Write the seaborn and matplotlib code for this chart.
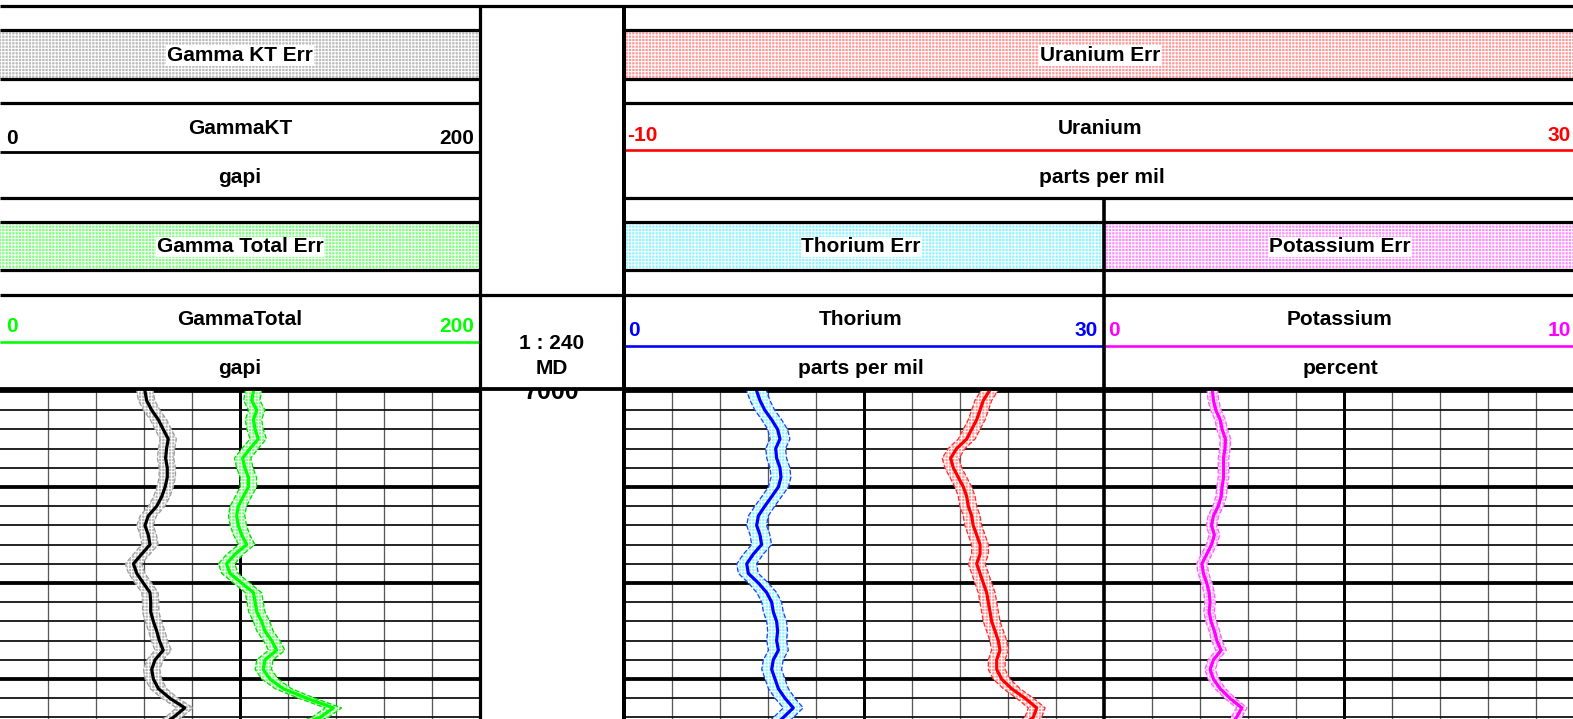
import numpy as np
import pandas as pd
import matplotlib
matplotlib.use("Agg")
import matplotlib.pyplot as plt
from matplotlib.patches import Rectangle
import seaborn as sns

# ---------------- data ----------------
depth = [6999.5, 7000.0, 7000.5, 7001.0, 7001.5, 7002.0, 7002.5, 7003.0, 7003.5,
         7004.0, 7004.5, 7005.0, 7005.5, 7006.0, 7006.5, 7007.0, 7007.5, 7008.0,
         7008.5, 7009.0, 7009.5, 7010.0, 7010.5, 7011.0, 7011.5, 7012.0, 7012.5,
         7013.0, 7013.5, 7014.0, 7014.5, 7015.0, 7015.5, 7016.0, 7016.5, 7017.0,
         7017.5]
gamma_kt = [59.8, 60.4, 61.1, 63.2, 66.0, 68.0, 70.1, 69.4, 69.0, 69.7, 69.7, 68.8,
            67.4, 65.3, 61.8, 60.4, 61.8, 62.5, 59.0, 55.6, 57.0, 59.7, 62.5, 62.8,
            62.8, 63.9, 65.3, 66.4, 68.0, 64.6, 63.2, 63.9, 66.0, 70.8, 77.0, 72.2,
            66.0]
gamma_total = [106.0, 105.6, 104.9, 107.0, 105.6, 106.3, 107.6, 104.2, 101.1, 102.0,
               103.5, 103.5, 101.4, 99.3, 98.6, 99.3, 100.7, 102.8, 97.9, 94.4, 95.8,
               100.7, 105.6, 106.3, 107.0, 109.0, 110.4, 113.2, 115.3, 110.4, 109.7,
               112.5, 118.0, 127.8, 138.9, 133.3, 122.0]
thorium = [8.1, 8.29, 8.5, 8.8, 9.23, 9.6, 9.75, 9.48, 9.54, 9.75, 9.81, 9.65, 9.23,
           8.8, 8.4, 8.29, 8.5, 8.6, 8.08, 7.67, 7.77, 8.4, 8.92, 9.23, 9.33, 9.54,
           9.6, 9.54, 9.65, 9.33, 9.23, 9.44, 9.65, 10.06, 10.58, 9.96, 9.3]
uranium = [20.9, 20.44, 19.94, 19.67, 19.39, 18.97, 18.56, 17.72, 17.22, 17.44, 17.86,
           18.28, 18.56, 18.69, 18.97, 19.1, 19.39, 19.67, 19.67, 19.39, 19.67, 19.94,
           20.22, 20.36, 20.5, 20.64, 20.92, 21.19, 21.33, 21.06, 21.06, 21.47, 22.3,
           23.42, 24.39, 24.1, 23.0]
potassium = [2.25, 2.26, 2.28, 2.33, 2.42, 2.46, 2.53, 2.52, 2.49, 2.49, 2.49, 2.46,
             2.44, 2.38, 2.28, 2.24, 2.30, 2.24, 2.14, 2.04, 2.07, 2.14, 2.19, 2.21,
             2.19, 2.23, 2.30, 2.35, 2.44, 2.28, 2.21, 2.28, 2.42, 2.625, 2.87, 2.76,
             2.6]
gamma_kt_err = 3.4
gamma_total_err = 3.4
thorium_err = 0.62
uranium_err = 0.7
potassium_err = 0.11

scale_gamma = (0, 200)
scale_thorium = (0, 30)
scale_uranium = (-10, 30)
scale_potassium = (0, 10)
depth_label = "7000"
scale_text = "1 : 240"
depth_ref = "MD"

# ---------------- layout ----------------
W, H = 1573, 719
DPI = 100
PX = 72.0 / DPI
FS = 15
sns.set_theme(style="white")
plt.rcParams["font.family"] = ["Liberation Sans", "DejaVu Sans"]
plt.rcParams["font.weight"] = "bold"
plt.rcParams["text.color"] = "black"
plt.rcParams["hatch.linewidth"] = 0.7

fig = plt.figure(figsize=(W / DPI, H / DPI), dpi=DPI)
fig.patch.set_facecolor("white")

TOP, BOT = 389, 719
ylim = (7017.08, 6999.9)


def px_axes(x0, x1, y0=TOP, y1=BOT, **kw):
    return fig.add_axes([x0 / W, 1 - y1 / H, (x1 - x0) / W, (y1 - y0) / H], **kw)


def clean(ax):
    ax.set_xlabel("")
    ax.set_ylabel("")
    ax.set_xticks([])
    ax.set_yticks([])
    for s in ax.spines.values():
        s.set_visible(False)
    if ax.get_legend():
        ax.get_legend().remove()


def grid(ax, lo, hi):
    for i in range(11):
        v = lo + (hi - lo) * i / 10
        if i in (0, 10):
            continue
        if i == 5:
            ax.axvline(v, color="black", lw=3 * PX, zorder=1)
        else:
            ax.axvline(v, color="#5a5a5a", lw=1.3 * PX, zorder=1)
    for d in range(7000, 7018):
        if d % 5 == 0:
            ax.axhline(d, color="black", lw=3.8 * PX, zorder=1)
        else:
            ax.axhline(d, color="#111111", lw=1.8 * PX, zorder=1)


df = pd.DataFrame({"depth": depth, "gkt": gamma_kt, "gt": gamma_total,
                   "th": thorium, "u": uranium, "k": potassium})


def curve(ax, col, err, color, tint, edge):
    lo = df[col] - err
    hi = df[col] + err
    ax.fill_betweenx(df["depth"], lo, hi, facecolor=tint, edgecolor="white",
                     hatch="+++++", linewidth=0, zorder=2)
    for edge_vals in (lo, hi):
        sns.lineplot(x=edge_vals, y=df["depth"], orient="y", sort=False,
                     estimator=None, ax=ax, color=edge, lw=1.3 * PX,
                     linestyle="--", zorder=3)
    sns.lineplot(x=df[col], y=df["depth"], orient="y", sort=False, estimator=None,
                 ax=ax, color=color, lw=3.2 * PX, zorder=4,
                 solid_joinstyle="round", solid_capstyle="round")


# Track 1
ax1 = px_axes(0, 480)
ax1.set_xlim(*scale_gamma)
ax1.set_ylim(*ylim)
grid(ax1, *scale_gamma)
curve(ax1, "gkt", gamma_kt_err, "black", "#b8b8b8", "#a0a0a0")
curve(ax1, "gt", gamma_total_err, "#00ff00", "#7dff7d", "#00e000")
ax1.set_xlim(*scale_gamma)
ax1.set_ylim(*ylim)
clean(ax1)

# Depth track
axd = px_axes(480, 624)
axd.set_xlim(0, 1)
axd.set_ylim(*ylim)
clean(axd)
axd.text(0.5, 7000.05, depth_label, ha="center", va="center", fontsize=18,
         fontweight="bold", color="black", clip_on=True)

# Track 2 (Thorium + Uranium)
ax2 = px_axes(624, 1104)
ax2.set_xlim(*scale_thorium)
ax2.set_ylim(*ylim)
grid(ax2, *scale_thorium)
curve(ax2, "th", thorium_err, "#0000ff", "#8ff4ff", "#2040ff")
ax2.set_xlim(*scale_thorium)
ax2.set_ylim(*ylim)
clean(ax2)
ax2u = ax2.twiny()
ax2u.patch.set_visible(False)
curve(ax2u, "u", uranium_err, "#ff0000", "#ff9a9a", "#ff3030")
ax2u.set_xlim(*scale_uranium)
ax2u.set_ylim(*ylim)
clean(ax2u)

# Track 3 (Potassium)
ax3 = px_axes(1104, 1584)
ax3.set_xlim(*scale_potassium)
ax3.set_ylim(*ylim)
grid(ax3, *scale_potassium)
curve(ax3, "k", potassium_err, "#ff00ff", "#ff9cff", "#ff60ff")
ax3.set_xlim(*scale_potassium)
ax3.set_ylim(*ylim)
clean(ax3)

# ---------------- header (pixel coordinates) ----------------
hax = fig.add_axes([0, 0, 1, 1], zorder=10)
hax.set_xlim(0, W)
hax.set_ylim(H, 0)
hax.axis("off")
hax.patch.set_visible(False)


def hl(y, x0, x1, color="black", w=3.2):
    hax.plot([x0, x1], [y, y], color=color, lw=w * PX, solid_capstyle="butt")


def vl(x, y0, y1, color="black", w=3.2):
    hax.plot([x, x], [y0, y1], color=color, lw=w * PX, solid_capstyle="butt")


def errbox(x0, x1, y0, y1, tint, label, xc):
    hax.add_patch(Rectangle((x0, y0), x1 - x0, y1 - y0, facecolor=tint,
                            edgecolor="white", hatch="+++++", lw=0, zorder=1))
    hax.text(xc, (y0 + y1) / 2 + 1, label, ha="center", va="center", fontsize=FS,
             fontweight="bold", color="black", zorder=3,
             bbox=dict(facecolor="white", edgecolor="none", pad=0.5))


errbox(0, 480, 30, 79, "#bcbcbc", "Gamma KT Err", 240)
errbox(624, 1584, 30, 79, "#ff9a9a", "Uranium Err", 1100)
errbox(0, 480, 222, 270, "#80ff80", "Gamma Total Err", 240)
errbox(624, 1104, 222, 270, "#8ff4ff", "Thorium Err", 861)
errbox(1104, 1584, 222, 270, "#ff90ff", "Potassium Err", 1340)

# horizontal header lines
hl(6, 0, W)
for y in (30, 79, 103, 198, 222, 270, 295):
    hl(y, 0, 480)
    hl(y, 624, W)
hl(295, 480, 624)
hl(389, 0, W, w=3.8)
hl(152, 0, 480, "black", 2.8)
hl(150, 624, W, "#ff0000", 2.6)
hl(342, 0, 480, "#00ff00", 2.6)
hl(346, 624, 1104, "#0000ff", 2.6)
hl(346, 1104, W, "#ff00ff", 2.6)

# vertical lines
vl(480, 6, H, w=3.2)
vl(624, 6, H, w=4)
vl(1104, 198, H, w=3.6)


def t(x, y, s, color="black", ha="center", size=FS):
    hax.text(x, y, s, ha=ha, va="baseline", fontsize=size, fontweight="bold",
             color=color, zorder=3)


# GammaKT
t(240, 134, "GammaKT")
t(6, 144, str(scale_gamma[0]), ha="left")
t(474, 144, str(scale_gamma[1]), ha="right")
t(240, 183, "gapi")
# GammaTotal
t(240, 325, "GammaTotal")
t(6, 332, str(scale_gamma[0]), color="#00ff00", ha="left")
t(474, 332, str(scale_gamma[1]), color="#00ff00", ha="right")
t(240, 374, "gapi")
# depth header
t(552, 349, scale_text)
t(552, 374, depth_ref)
# Uranium
t(1100, 134, "Uranium")
t(627, 141, str(scale_uranium[0]), color="#ff0000", ha="left")
t(1571, 141, str(scale_uranium[1]), color="#ff0000", ha="right")
t(1102, 183, "parts per mil")
# Thorium
t(861, 325, "Thorium")
t(628, 336, str(scale_thorium[0]), color="#0000ff", ha="left")
t(1098, 336, str(scale_thorium[1]), color="#0000ff", ha="right")
t(861, 374, "parts per mil")
# Potassium
t(1340, 325, "Potassium")
t(1108, 336, str(scale_potassium[0]), color="#ff00ff", ha="left")
t(1571, 336, str(scale_potassium[1]), color="#ff00ff", ha="right")
t(1340, 374, "percent")

fig.savefig("out.png", dpi=DPI)
